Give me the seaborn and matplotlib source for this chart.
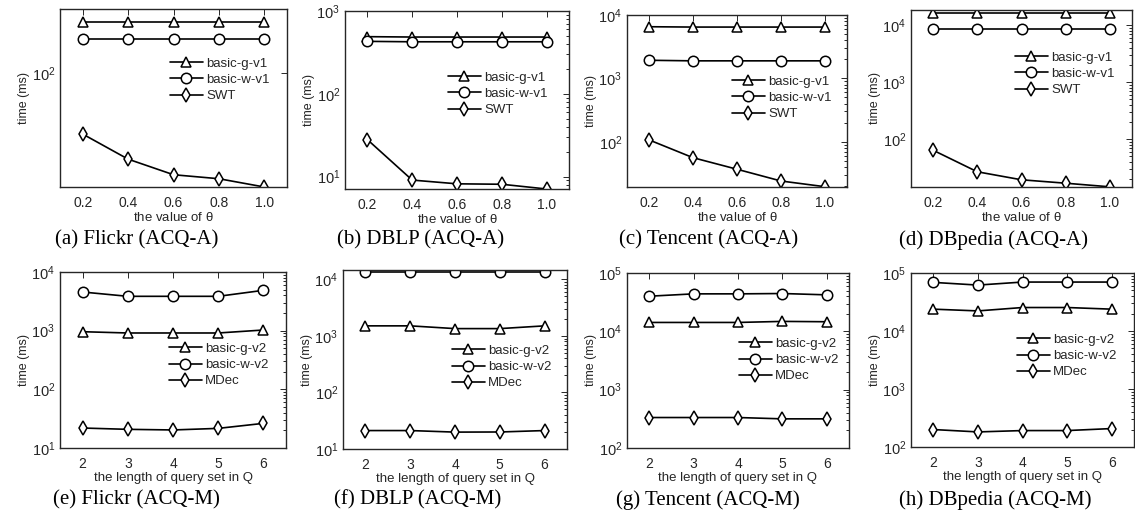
import numpy as np
import pandas as pd
import matplotlib
matplotlib.use("Agg")
import matplotlib.pyplot as plt
import seaborn as sns
from matplotlib.ticker import LogLocator, NullLocator, NullFormatter

# ---- data -------------------------------------------------------------
theta = [0.2, 0.4, 0.6, 0.8, 1.0]
qlen = [2, 3, 4, 5, 6]

names_a = ["basic-g-v1", "basic-w-v1", "SWT"]
names_m = ["basic-g-v2", "basic-w-v2", "MDec"]

# ACQ-A: time (ms) vs theta
flickr_a_g = [178, 178, 178, 178, 178]
flickr_a_w = [148, 148, 148, 148, 148]
flickr_a_swt = [50, 37.6, 31.5, 30.1, 27.4]

dblp_a_g = [490, 485, 485, 485, 485]
dblp_a_w = [430, 425, 425, 425, 425]
dblp_a_swt = [28, 9.1, 8.2, 8.1, 7.1]

tencent_a_g = [6530, 6450, 6450, 6450, 6450]
tencent_a_w = [1930, 1890, 1890, 1890, 1890]
tencent_a_swt = [107, 56, 36.8, 24, 19.5]

dbpedia_a_g = [16500, 16500, 16500, 16500, 16500]
dbpedia_a_w = [8620, 8620, 8620, 8620, 8620]
dbpedia_a_swt = [64, 26.8, 19.4, 16.9, 14.6]

# ACQ-M: time (ms) vs length of query set
flickr_m_g = [960, 913, 913, 913, 1026]
flickr_m_w = [4560, 3850, 3850, 3850, 4870]
flickr_m_mdec = [21.9, 20.8, 20.3, 21.6, 26.3]

dblp_m_g = [1510, 1510, 1350, 1350, 1510]
dblp_m_w = [13700, 13700, 13700, 13700, 13700]
dblp_m_mdec = [21.2, 21.2, 19.9, 20.0, 21.2]

tencent_m_g = [14200, 14200, 14200, 14800, 14600]
tencent_m_w = [40000, 43900, 43900, 44500, 42200]
tencent_m_mdec = [333, 333, 333, 316, 316]

dbpedia_m_g = [23800, 22200, 25400, 25400, 23800]
dbpedia_m_w = [68900, 61900, 69800, 69800, 69800]
dbpedia_m_mdec = [200, 182, 192, 192, 208]

captions = ["(a) Flickr (ACQ-A)", "(b) DBLP (ACQ-A)", "(c) Tencent (ACQ-A)",
            "(d) DBpedia (ACQ-A)", "(e) Flickr (ACQ-M)", "(f) DBLP (ACQ-M)",
            "(g) Tencent (ACQ-M)", "(h) DBpedia (ACQ-M)"]

# ---- style ------------------------------------------------------------
sns.set_style("white")
plt.rcParams["font.family"] = ["Liberation Sans", "DejaVu Sans"]
plt.rcParams["mathtext.fontset"] = "custom"
plt.rcParams["mathtext.rm"] = "Liberation Sans"
plt.rcParams["mathtext.it"] = "Liberation Serif:italic"
plt.rcParams["mathtext.default"] = "regular"

W, H = 1135, 520
fig = plt.figure(figsize=(W / 100, H / 100), dpi=100)
fig.patch.set_facecolor("white")

INK = "#262626"


def px_axes(l, t, r, b):
    return fig.add_axes([l / W, 1 - b / H, (r - l) / W, (b - t) / H])


panels = [
    # x, series, names, axes box (l, t, r, b), ylim, legend anchor, caption pos, minor ticks
    (theta, [flickr_a_g, flickr_a_w, flickr_a_swt], names_a, (60, 9, 287, 187), (27.4, 207), (170, 80), (137, 240), False),
    (theta, [dblp_a_g, dblp_a_w, dblp_a_swt], names_a, (345, 11, 569, 189), (7.1, 1000), (448, 94), (421, 240), True),
    (theta, [tencent_a_g, tencent_a_w, tencent_a_swt], names_a, (627, 15, 847, 187), (19.3, 10000), (732, 98), (709, 240), True),
    (theta, [dbpedia_a_g, dbpedia_a_w, dbpedia_a_swt], names_a, (911, 10, 1132, 187), (14.5, 18400), (1015, 74), (994, 240), True),
    (qlen, [flickr_m_g, flickr_m_w, flickr_m_mdec], names_m, (60, 272, 286, 448), (10, 10000), (169, 365), (136, 500), True),
    (qlen, [dblp_m_g, dblp_m_w, dblp_m_mdec], names_m, (343, 270, 567, 449), (10, 14700), (452, 367), (418, 500), True),
    (qlen, [tencent_m_g, tencent_m_w, tencent_m_mdec], names_m, (627, 273, 849, 448), (100, 100000), (739, 360), (708, 500), True),
    (qlen, [dbpedia_m_g, dbpedia_m_w, dbpedia_m_mdec], names_m, (911, 273, 1134, 447), (100, 100000), (1017, 356), (995, 500), True),
]

for i, (xs, series, names, box, ylim, leg_xy, cap_xy, minor) in enumerate(panels):
    ax = px_axes(*box)
    df = pd.DataFrame({
        "x": np.tile(xs, 3),
        "y": np.concatenate(series),
        "series": np.repeat(names, len(xs)),
    })
    sns.lineplot(data=df, x="x", y="y", hue="series", style="series",
                 hue_order=names, style_order=names,
                 markers=["^", "o", "d"], dashes=False,
                 palette=["black"] * 3, errorbar=None, legend=False, ax=ax,
                 linewidth=1.2, markersize=7.5, mfc="white", mec="black", mew=1.1)
    ax.set_yscale("log")
    ax.set_ylim(*ylim)
    if xs is theta:
        ax.set_xlim(0.1, 1.1)
        ax.set_xticks(theta)
        ax.set_xticklabels([f"{v:.1f}" for v in theta])
        ax.set_xlabel(r"the value of $\theta$", fontsize=9.5, color=INK, labelpad=0.5)
    else:
        ax.set_xlim(1.5, 6.5)
        ax.set_xticks(qlen)
        ax.set_xticklabels([str(v) for v in qlen])
        ax.set_xlabel("the length of query set in Q", fontsize=9.5, color=INK, labelpad=0.5)
    ax.set_ylabel("time (ms)", fontsize=9, color=INK, labelpad=1)

    ax.yaxis.set_major_locator(LogLocator(base=10, numticks=10))
    if minor:
        ax.yaxis.set_minor_locator(LogLocator(base=10, subs=np.arange(2, 10), numticks=20))
    else:
        ax.yaxis.set_minor_locator(NullLocator())
    ax.yaxis.set_minor_formatter(NullFormatter())

    ax.tick_params(which="both", direction="in", top=True, right=True,
                   colors=INK, width=0.7)
    ax.tick_params(which="major", length=4)
    ax.tick_params(which="minor", length=2)
    ax.tick_params(axis="x", labelsize=10, pad=6.5)
    ax.tick_params(axis="y", labelsize=10.5, pad=3.5)
    for sp in ax.spines.values():
        sp.set_color(INK)
        sp.set_linewidth(1.0)

    ax.legend(handles=ax.lines[:3], labels=names, loc="center left",
              bbox_to_anchor=(leg_xy[0] / W, 1 - leg_xy[1] / H),
              bbox_transform=fig.transFigure, frameon=False, fontsize=9.5,
              handlelength=2.5, handletextpad=0.25, labelspacing=0.3,
              borderpad=0, borderaxespad=0)

    fig.text(cap_xy[0] / W, 1 - cap_xy[1] / H, captions[i], ha="center",
             va="center", family="Liberation Serif", fontsize=15, color="black")

fig.savefig("out.png", dpi=100, facecolor="white")
